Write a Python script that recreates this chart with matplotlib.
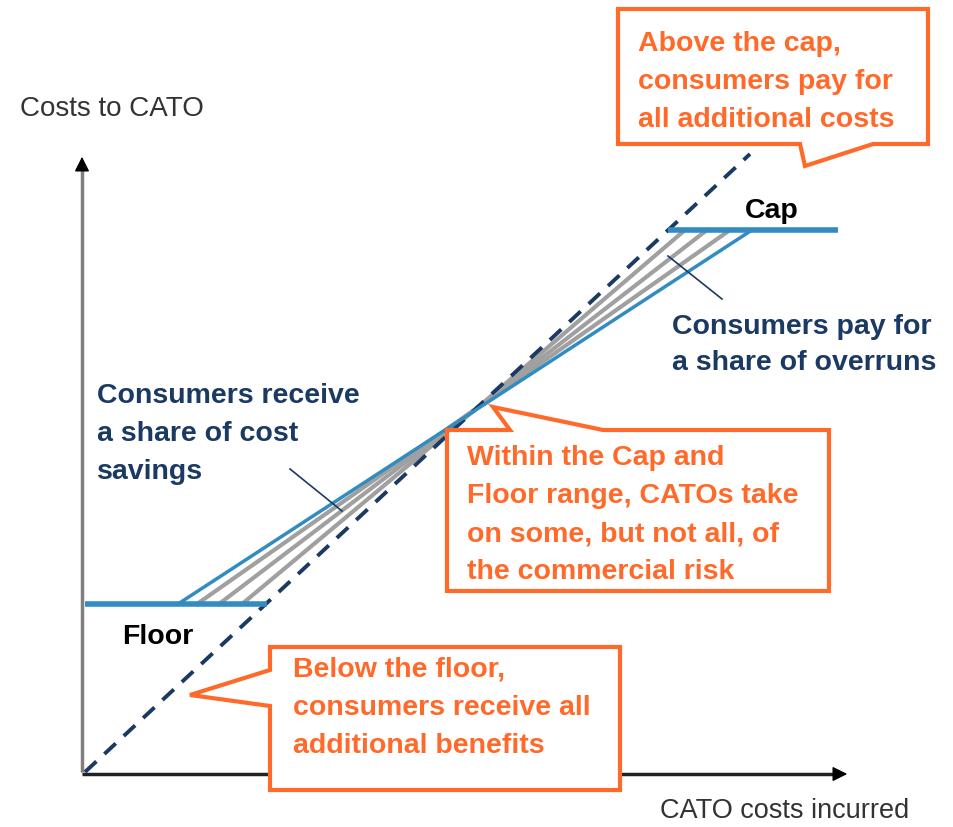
import matplotlib
matplotlib.use("Agg")
import matplotlib.pyplot as plt
from matplotlib.patches import Polygon

# data units: origin of the diagram at (0, 0), x = CATO costs incurred, y = costs to CATO
diag_x = [0, 665]
diag_y = [0, 618]
floor_level = 168
cap_level = 542
floor_x = [0, 182]          # floor line, ends where it meets the diagonal
cap_x = [583, 753]          # cap line
share_x = [93, 667]         # sharing line (floor -> cap)
share_y = [floor_level, cap_level]
cross = (392, 364)          # where the sharing line crosses the diagonal
floor_hatch_x = [112, 134, 157]
cap_hatch_x = [600, 622, 645]

axis_x_end = 765
axis_y_end = 618

lbl_yaxis = "Costs to CATO"
lbl_xaxis = "CATO costs incurred"
txt_savings = ["Consumers receive", "a share of cost", "savings"]
txt_overruns = ["Consumers pay for", "a share of overruns"]
txt_above = ["Above the cap,", "consumers pay for", "all additional costs"]
txt_within = ["Within the Cap and", "Floor range, CATOs take",
              "on some, but not all, of", "the commercial risk"]
txt_below = ["Below the floor,", "consumers receive all", "additional benefits"]

BLUE = "#318cc2"
NAVY = "#1b3a63"
ORANGE = "#ff6a2a"
FONT = "Liberation Sans"

fig = plt.figure(figsize=(9.54, 8.28), dpi=100)
ax = fig.add_axes([0, 0, 1, 1])
ax.set_xlim(-85, 869)
ax.set_ylim(-55, 773)
ax.axis("off")

# axes with arrows
ax.plot([-3, -3], [0, axis_y_end - 12], color="#7f7f7f", lw=2.5, solid_capstyle="butt")
ax.annotate("", xy=(-3, axis_y_end), xytext=(-3, axis_y_end - 14),
            arrowprops=dict(arrowstyle="-|>,head_length=0.9,head_width=0.45",
                            color="black", lw=1))
ax.plot([-3, axis_x_end - 12], [-2, -2], color="#222222", lw=2.5, solid_capstyle="butt")
ax.annotate("", xy=(axis_x_end, -2), xytext=(axis_x_end - 14, -2),
            arrowprops=dict(arrowstyle="-|>,head_length=0.9,head_width=0.45",
                            color="black", lw=1))

# hatching between the diagonal and the sharing line
for hx in floor_hatch_x:
    ax.plot([hx, cross[0]], [floor_level, cross[1]], color="#a0a0a0", lw=3, zorder=2)
for hx in cap_hatch_x:
    ax.plot([hx, cross[0]], [cap_level, cross[1]], color="#a0a0a0", lw=3, zorder=2)

# 1:1 dashed line
ax.plot(diag_x, diag_y, color=NAVY, lw=2.8, ls=(0, (4, 2.8)), zorder=3)

# cap / floor / sharing line
ax.plot(floor_x, [floor_level, floor_level], color=BLUE, lw=4, zorder=4, solid_capstyle="butt")
ax.plot(cap_x, [cap_level, cap_level], color=BLUE, lw=4, zorder=4, solid_capstyle="butt")
ax.plot(share_x, share_y, color=BLUE, lw=2.5, zorder=4)

# leader lines
ax.plot([205, 257], [303, 261], color=NAVY, lw=1.2, zorder=5)
ax.plot([583, 637], [516, 473], color=NAVY, lw=1.2, zorder=5)

# axis titles
ax.text(-65, 664, lbl_yaxis, fontsize=20, family=FONT, color="#333333", va="center")
ax.text(575, -38, lbl_xaxis, fontsize=19.5, family=FONT, color="#333333", va="center")

# labels
ax.text(660, 562, "Cap", fontsize=20.5, family=FONT, weight="bold", color="black", va="center")
ax.text(37, 136, "Floor", fontsize=20.5, family=FONT, weight="bold", color="black", va="center")


def block(lines, x, y0, color, size=20.5, pitch=38):
    for i, s in enumerate(lines):
        ax.text(x, y0 - i * pitch, s, fontsize=size, family=FONT, weight="bold",
                color=color, va="center", zorder=7)


block(txt_savings, 12, 377, NAVY)
block(txt_overruns, 587, 446, NAVY, pitch=36)


def callout(verts):
    ax.add_patch(Polygon(verts, closed=True, facecolor="white", edgecolor=ORANGE,
                         lw=3, joinstyle="miter", zorder=6))


callout([(533, 628), (533, 763), (843, 763), (843, 628),
         (788, 628), (720, 606), (715, 628)])
block(txt_above, 553, 729, ORANGE)

callout([(362, 181), (362, 342), (425, 342), (408, 365), (518, 342),
         (744, 342), (744, 181)])
block(txt_within, 382, 315, ORANGE)

callout([(185, -18), (185, 66), (105, 77), (185, 102), (185, 125),
         (535, 125), (535, -18)])
block(txt_below, 208, 103, ORANGE)

fig.savefig("out.png", dpi=100, facecolor="white")
